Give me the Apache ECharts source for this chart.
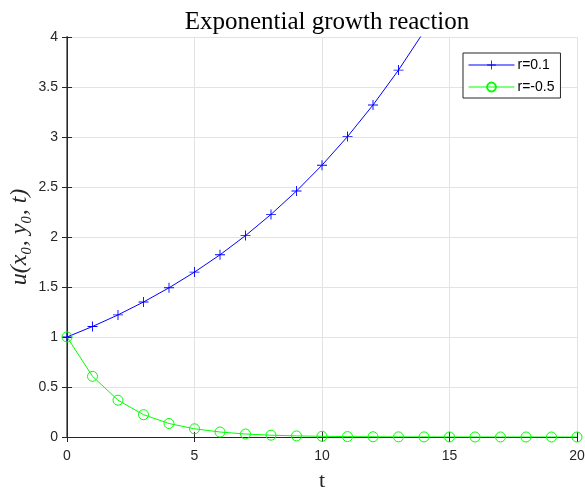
<!DOCTYPE html>
<html>
<head>
<meta charset="utf-8">
<script src="https://cdn.jsdelivr.net/npm/echarts@6/dist/echarts.min.js"></script>
<style>
  html, body { margin: 0; padding: 0; background: #fff; }
  #chart { width: 585px; height: 490px; }
</style>
</head>
<body>
<div id="chart"></div>
<script>
// t values
var tGrowth = [0, 1, 2, 3, 4, 5, 6, 7, 8, 9, 10, 11, 12, 13, 14];
var tDecay = [0, 1, 2, 3, 4, 5, 6, 7, 8, 9, 10, 11, 12, 13, 14, 15, 16, 17, 18, 19, 20];
// r=0.1 (line leaves the top between 13 and 14)
var uGrowth = [1, 1.105, 1.221, 1.35, 1.492, 1.649, 1.822, 2.014, 2.226, 2.46, 2.718, 3.004, 3.32, 3.669, 4.055];
// r=-0.5
var uDecay = [1, 0.607, 0.368, 0.223, 0.135, 0.082, 0.05, 0.03, 0.018, 0.011, 0.007, 0.004, 0.0025, 0.0015, 0.001, 0.0006, 0.0003, 0.0002, 0.0001, 0.0001, 0];
var seriesNames = ['r=0.1', 'r=-0.5'];

function pairs(xs, ys) {
    return xs.map(function (x, i) { return [x, ys[i]]; });
}

var chart = echarts.init(document.getElementById('chart'));

var dark = '#262626';
var gridColor = '#e3e3e3';
var sans = "'Liberation Sans', Arial, sans-serif";
var serif = "'Liberation Serif', 'DejaVu Serif', serif";
// plus marker
var plus = 'path://M5,0 H6 V5 H11 V6 H6 V11 H5 V6 H0 V5 H5 Z';

option = {
    animation: false,
    backgroundColor: '#fff',
    title: {
        text: 'Exponential growth reaction',
        left: 322,
        textAlign: 'center',
        top: 5,
        textStyle: { fontFamily: serif, fontSize: 25, fontWeight: 'normal', color: '#000' }
    },
    legend: {
        orient: 'vertical',
        left: 463,
        top: 53,
        padding: [5, 6, 4, 5],
        itemGap: 8,
        itemWidth: 46,
        itemHeight: 11,
        borderColor: dark,
        borderWidth: 1,
        backgroundColor: '#fff',
        lineStyle: { width: 1 },
        textStyle: { fontFamily: sans, fontSize: 14, color: '#000', padding: [0, 0, 0, -2] },
        data: seriesNames
    },
    grid: { left: 67, right: 8, top: 37, bottom: 53, outerBoundsMode: 'none', containLabel: false },
    xAxis: [{
        type: 'value',
        min: 0, max: 20, interval: 5,
        name: 't',
        nameLocation: 'middle',
        nameGap: 33,
        nameMoveOverlap: false,
        nameTextStyle: { fontFamily: serif, fontSize: 22, color: dark },
        axisLine: { onZero: false, lineStyle: { color: dark, width: 1 } },
        axisTick: { inside: true, length: 5, lineStyle: { color: dark } },
        axisLabel: { fontFamily: sans, fontSize: 14, color: dark, margin: 12 },
        splitLine: { show: true, lineStyle: { color: gridColor } }
    }, {
        type: 'value', position: 'top',
        min: 0, max: 20, interval: 5,
        axisLine: { show: true, lineStyle: { color: dark } },
        axisTick: { inside: true, length: 5, lineStyle: { color: dark } },
        axisLabel: { show: false },
        splitLine: { show: false }
    }],
    yAxis: [{
        type: 'value',
        min: 0, max: 4, interval: 0.5,
        name: 'u(x\u2080, y\u2080, t)',
        nameLocation: 'middle',
        nameGap: 35,
        nameMoveOverlap: false,
        nameTextStyle: { fontFamily: serif, fontStyle: 'italic', fontSize: 24, color: dark },
        axisLine: { show: true, onZero: false, lineStyle: { color: '#808080', width: 2 } },
        axisTick: { inside: true, length: 5, lineStyle: { color: dark } },
        axisLabel: { fontFamily: sans, fontSize: 14, color: dark, margin: 9 },
        splitLine: { show: true, lineStyle: { color: gridColor } }
    }, {
        type: 'value', position: 'right',
        min: 0, max: 4, interval: 0.5,
        axisLine: { show: true, lineStyle: { color: dark } },
        axisTick: { show: true, inside: true, length: 5, lineStyle: { color: dark } },
        axisLabel: { show: false },
        splitLine: { show: false }
    }],
    series: [
        {
            name: seriesNames[0],
            type: 'line',
            data: pairs(tGrowth, uGrowth),
            symbol: plus,
            symbolSize: 10,
            showAllSymbol: true,
            clip: true,
            lineStyle: { color: '#0000ff', width: 1 },
            itemStyle: { color: '#0000ff' }
        },
        {
            name: seriesNames[1],
            type: 'line',
            data: pairs(tDecay, uDecay),
            symbol: 'circle',
            symbolSize: 10,
            showAllSymbol: true,
            clip: true,
            lineStyle: { color: '#00ff00', width: 1 },
            itemStyle: { color: 'rgba(0,0,0,0)', borderColor: '#00ff00', borderWidth: 1 }
        }
    ]
};

chart.setOption(option);
</script>
</body>
</html>
